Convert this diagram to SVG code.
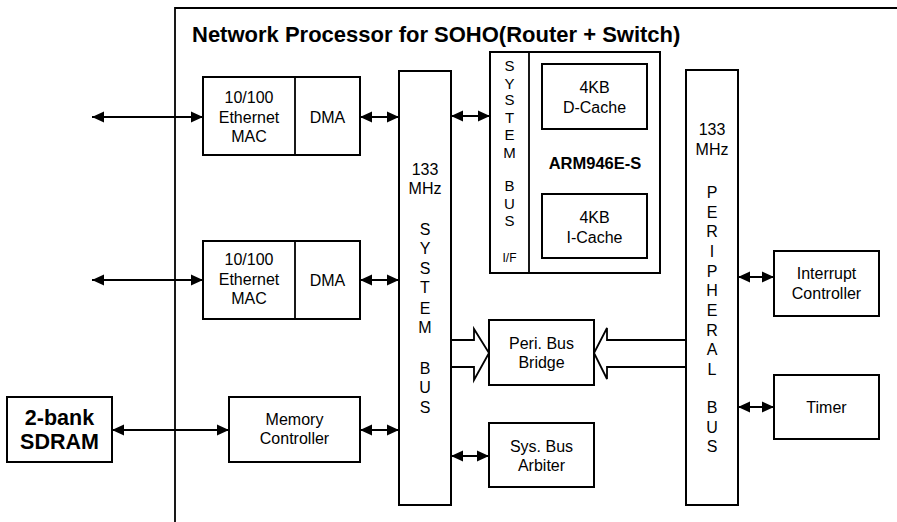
<svg xmlns="http://www.w3.org/2000/svg" width="897" height="522" viewBox="0 0 897 522">
<style>
.box{fill:#fff;stroke:#000;stroke-width:2}
.ln{fill:none;stroke:#000;stroke-width:1.8}
.t{font-family:"Liberation Sans",Arial,sans-serif;font-size:16px;text-anchor:middle;fill:#000}
.b{font-weight:bold}
.s15{font-size:15px}
</style>
<defs>
<marker id="ah" markerUnits="userSpaceOnUse" markerWidth="13" markerHeight="12" refX="12" refY="6" orient="auto-start-reverse">
<path d="M0,0.5 L12,6 L0,11.5 z" fill="#000"/>
</marker>
</defs>
<rect width="897" height="522" fill="#fff"/>
<g id="frame">
<path class="ln" d="M175,522 L175,8 L897,8" stroke-width="2"/>
<text x="192" y="42" class="t b" style="font-size:22px;text-anchor:start">Network Processor for SOHO(Router + Switch)</text>
</g>
<g id="mac1">
<rect class="box" x="203" y="77" width="157" height="78"/>
<line class="ln" x1="295" y1="77" x2="295" y2="155"/>
<text class="t" x="249" y="103">10/100</text>
<text class="t" x="249" y="122.5">Ethernet</text>
<text class="t" x="249" y="142">MAC</text>
<text class="t" x="327.5" y="123">DMA</text>
</g>
<g id="mac2">
<rect class="box" x="203" y="241" width="157" height="78"/>
<line class="ln" x1="295" y1="241" x2="295" y2="319"/>
<text class="t" x="249" y="265">10/100</text>
<text class="t" x="249" y="285">Ethernet</text>
<text class="t" x="249" y="304">MAC</text>
<text class="t" x="327.5" y="286">DMA</text>
</g>
<g id="memctrl">
<rect class="box" x="229" y="397" width="131" height="65"/>
<text class="t" x="294.5" y="425">Memory</text>
<text class="t" x="294.5" y="444">Controller</text>
</g>
<g id="sdram">
<rect class="box" x="7" y="397" width="105" height="65"/>
<text class="t b" x="59.5" y="425" style="font-size:21.5px">2-bank</text>
<text class="t b" x="59.5" y="449" style="font-size:21.5px">SDRAM</text>
</g>
<g id="sysbus">
<rect class="box" x="399" y="71" width="52" height="434"/>
<text class="t" x="425" y="175">133</text>
<text class="t" x="425" y="194">MHz</text>
<text class="t" x="425" y="235">S</text>
<text class="t" x="425" y="254">Y</text>
<text class="t" x="425" y="274">S</text>
<text class="t" x="425" y="293">T</text>
<text class="t" x="425" y="314">E</text>
<text class="t" x="425" y="333">M</text>
<text class="t" x="425" y="374">B</text>
<text class="t" x="425" y="393">U</text>
<text class="t" x="425" y="413">S</text>
</g>
<g id="arm">
<rect class="box" x="490" y="52" width="170" height="221"/>
<line class="ln" x1="529" y1="52" x2="529" y2="273"/>
<text class="t s15" x="509.5" y="71">S</text>
<text class="t s15" x="509.5" y="88.5">Y</text>
<text class="t s15" x="509.5" y="105">S</text>
<text class="t s15" x="509.5" y="122.5">T</text>
<text class="t s15" x="509.5" y="140">E</text>
<text class="t s15" x="509.5" y="158">M</text>
<text class="t s15" x="509.5" y="190.5">B</text>
<text class="t s15" x="509.5" y="208.5">U</text>
<text class="t s15" x="509.5" y="225.5">S</text>
<text class="t" x="509.5" y="261.5" style="font-size:12px">I/F</text>
<text class="t b" x="595" y="169" style="font-size:16.5px">ARM946E-S</text>
</g>
<g id="dcache">
<rect class="box" x="542" y="64" width="105" height="65"/>
<text class="t" x="594.5" y="93">4KB</text>
<text class="t" x="594.5" y="113">D-Cache</text>
</g>
<g id="icache">
<rect class="box" x="542" y="194" width="105" height="64"/>
<text class="t" x="594.5" y="223">4KB</text>
<text class="t" x="594.5" y="243">I-Cache</text>
</g>
<g id="peribus">
<rect class="box" x="686" y="70" width="52" height="435"/>
<text class="t" x="712" y="135">133</text>
<text class="t" x="712" y="155">MHz</text>
<text class="t" x="712" y="198">P</text>
<text class="t" x="712" y="217.5">E</text>
<text class="t" x="712" y="237">R</text>
<text class="t" x="712" y="257">I</text>
<text class="t" x="712" y="276.5">P</text>
<text class="t" x="712" y="296">H</text>
<text class="t" x="712" y="316">E</text>
<text class="t" x="712" y="335.5">R</text>
<text class="t" x="712" y="355">A</text>
<text class="t" x="712" y="375">L</text>
<text class="t" x="712" y="413">B</text>
<text class="t" x="712" y="433">U</text>
<text class="t" x="712" y="452">S</text>
</g>
<g id="intctrl">
<rect class="box" x="774" y="251" width="105" height="65"/>
<text class="t" x="826.5" y="279">Interrupt</text>
<text class="t" x="826.5" y="299">Controller</text>
</g>
<g id="timer">
<rect class="box" x="774" y="375" width="105" height="64"/>
<text class="t" x="826.5" y="413">Timer</text>
</g>
<g id="bridge">
<rect class="box" x="489" y="320" width="105" height="65"/>
<text class="t" x="541.5" y="349">Peri. Bus</text>
<text class="t" x="541.5" y="368">Bridge</text>
</g>
<g id="arbiter">
<rect class="box" x="489" y="423" width="105" height="64"/>
<text class="t" x="541.5" y="452">Sys. Bus</text>
<text class="t" x="541.5" y="471">Arbiter</text>
</g>
<g id="connectors">
<line class="ln" x1="92" y1="117" x2="203" y2="117" marker-start="url(#ah)" marker-end="url(#ah)"/>
<line class="ln" x1="360" y1="117" x2="399" y2="117" marker-start="url(#ah)" marker-end="url(#ah)"/>
<line class="ln" x1="451" y1="116" x2="490" y2="116" marker-start="url(#ah)" marker-end="url(#ah)"/>
<line class="ln" x1="92" y1="280" x2="203" y2="280" marker-start="url(#ah)" marker-end="url(#ah)"/>
<line class="ln" x1="360" y1="280" x2="399" y2="280" marker-start="url(#ah)" marker-end="url(#ah)"/>
<line class="ln" x1="112" y1="430" x2="229" y2="430" marker-start="url(#ah)" marker-end="url(#ah)"/>
<line class="ln" x1="360" y1="430" x2="399" y2="430" marker-start="url(#ah)" marker-end="url(#ah)"/>
<line class="ln" x1="451" y1="456" x2="489" y2="456" marker-start="url(#ah)" marker-end="url(#ah)"/>
<line class="ln" x1="738" y1="277" x2="774" y2="277" marker-start="url(#ah)" marker-end="url(#ah)"/>
<line class="ln" x1="738" y1="407" x2="774" y2="407" marker-start="url(#ah)" marker-end="url(#ah)"/>
<path class="ln" d="M451,340 L474,340 L474,329 L489,353 L474,380 L474,367 L451,367" fill="#fff"/>
<path class="ln" d="M686,340 L607,340 L607,328 L594,353 L607,379 L607,367 L686,367" fill="#fff"/>
</g>
</svg>
